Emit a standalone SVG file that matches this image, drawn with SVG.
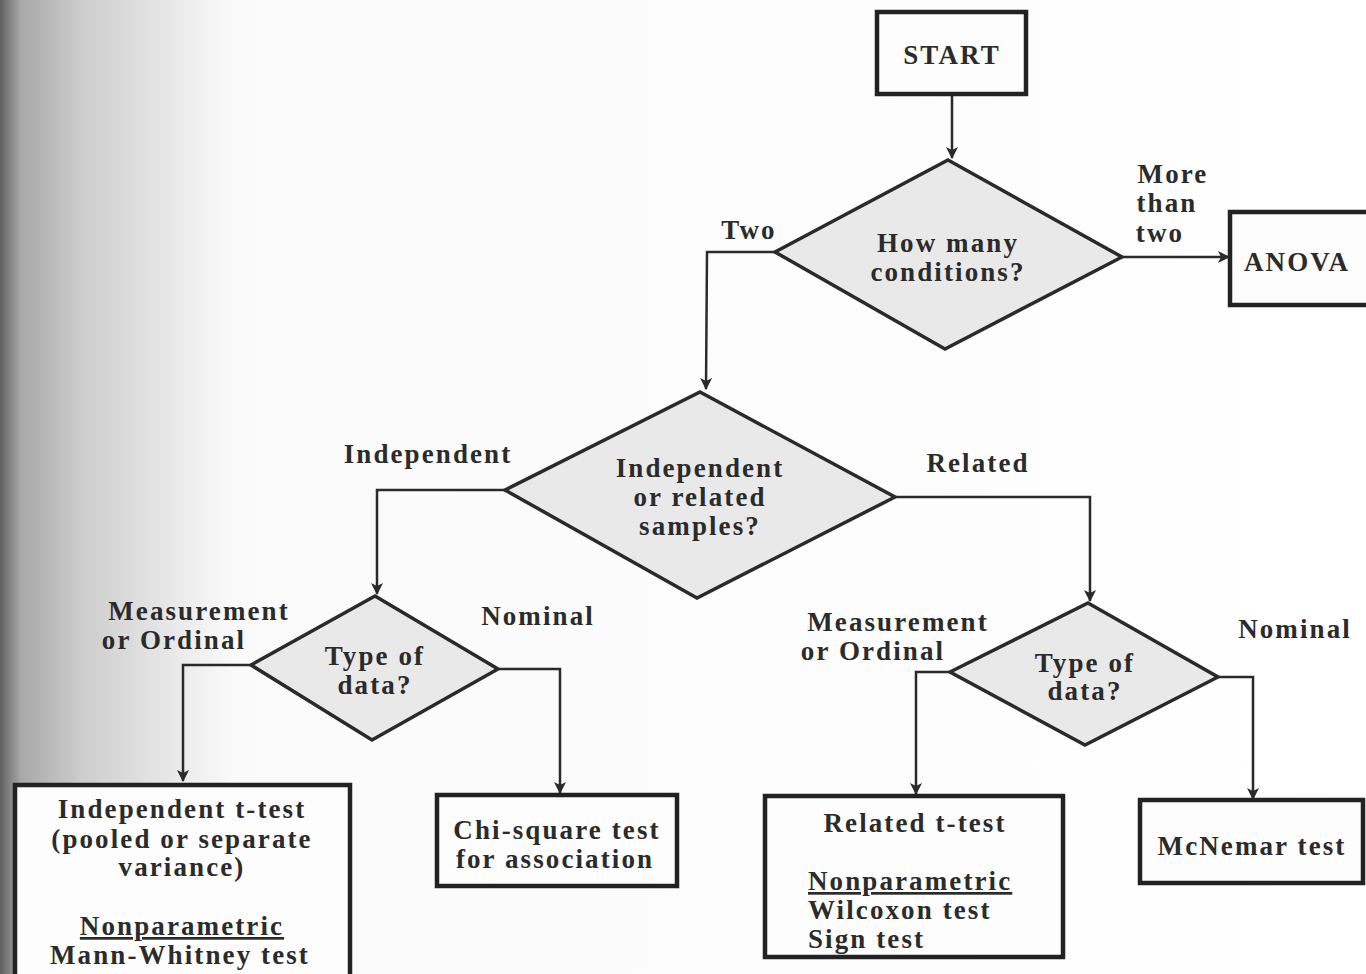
<svg xmlns="http://www.w3.org/2000/svg" width="1366" height="974" viewBox="0 0 1366 974">
<defs>
<linearGradient id="scan" x1="0" y1="0" x2="1" y2="0">
<stop offset="0" stop-color="#606060"/>
<stop offset="0.015" stop-color="#a8a8a8"/>
<stop offset="0.06" stop-color="#cdcdcd"/>
<stop offset="0.12" stop-color="#e6e6e6"/>
<stop offset="0.17" stop-color="#fafafa"/>
<stop offset="1" stop-color="#ffffff"/>
</linearGradient>
<marker id="arr" viewBox="0 0 12 12" refX="11" refY="6" markerWidth="12" markerHeight="12" markerUnits="userSpaceOnUse" orient="auto">
<path d="M0,0 L12,6 L0,12 L3,6 Z" fill="#2a2a2a"/>
</marker>
<style>
.box{fill:#fdfdfd;stroke:#222;stroke-width:4.5}
.dia{fill:#e9e9e9;stroke:#2a2a2a;stroke-width:3.5;stroke-linejoin:miter}
.con{fill:none;stroke:#2a2a2a;stroke-width:2.5;marker-end:url(#arr)}
text{font-family:"Liberation Serif","Times New Roman",serif;font-weight:bold;font-size:27px;fill:#2b2b2b;letter-spacing:2.1px}
.c{text-anchor:middle}
.u{text-decoration:underline}
</style>
</defs>
<rect x="0" y="0" width="1366" height="974" fill="url(#scan)"/>

<g id="connectors">
<path class="con" d="M952,94 L952,158"/>
<path class="con" d="M775,252 L707,252 L706,389"/>
<path class="con" d="M1122,257 L1229,257"/>
<path class="con" d="M505,490 L377,490 L377,594"/>
<path class="con" d="M895,497 L1090,497 L1090,601"/>
<path class="con" d="M251,665 L183,665 L183,781"/>
<path class="con" d="M498,669 L560,669 L560,793"/>
<path class="con" d="M950,672 L916,672 L916,794"/>
<path class="con" d="M1218,677 L1253,677 L1253,799"/>
</g>

<g id="labels">
<text class="c" x="749" y="239">Two</text>
<text class="c" x="1173" y="183">More</text>
<text class="c" x="1167" y="212">than</text>
<text class="c" x="1160" y="242">two</text>
<text class="c" x="428" y="463">Independent</text>
<text class="c" x="978" y="472">Related</text>
<text class="c" x="199" y="620">Measurement</text>
<text class="c" x="174" y="649">or Ordinal</text>
<text class="c" x="538" y="625">Nominal</text>
<text class="c" x="898" y="631">Measurement</text>
<text class="c" x="873" y="660">or Ordinal</text>
<text class="c" x="1295" y="638">Nominal</text>
</g>

<g id="start">
<rect class="box" x="877" y="12" width="149" height="82"/>
<text class="c" x="952" y="64">START</text>
</g>

<g id="how-many">
<polygon class="dia" points="948,160 1122,257 945,349 775,252"/>
<text class="c" x="948" y="252">How many</text>
<text class="c" x="948" y="281">conditions?</text>
</g>

<g id="anova">
<rect class="box" x="1230" y="212" width="140" height="93"/>
<text class="c" x="1297" y="271">ANOVA</text>
</g>

<g id="samples">
<polygon class="dia" points="700,392 895,497 697,598 505,490"/>
<text class="c" x="700" y="477">Independent</text>
<text class="c" x="700" y="506">or related</text>
<text class="c" x="700" y="535">samples?</text>
</g>

<g id="type-left">
<polygon class="dia" points="375,596 498,669 372,740 251,665"/>
<text class="c" x="375" y="665">Type of</text>
<text class="c" x="375" y="694">data?</text>
</g>

<g id="type-right">
<polygon class="dia" points="1088,603 1218,677 1085,745 950,672"/>
<text class="c" x="1085" y="672">Type of</text>
<text class="c" x="1085" y="700">data?</text>
</g>

<g id="independent-t">
<rect class="box" x="15" y="785" width="335" height="195"/>
<text class="c" x="182" y="818">Independent t-test</text>
<text class="c" x="182" y="848">(pooled or separate</text>
<text class="c" x="182" y="876">variance)</text>
<text class="c u" x="182" y="935">Nonparametric</text>
<text class="c" x="180" y="964">Mann-Whitney test</text>
</g>

<g id="chi-square">
<rect class="box" x="437" y="795" width="240" height="91"/>
<text class="c" x="557" y="839">Chi-square test</text>
<text class="c" x="555" y="868">for association</text>
</g>

<g id="related-t">
<rect class="box" x="765" y="796" width="298" height="161"/>
<text class="c" x="915" y="832">Related t-test</text>
<text class="u" x="808" y="890">Nonparametric</text>
<text x="808" y="919">Wilcoxon test</text>
<text x="808" y="948">Sign test</text>
</g>

<g id="mcnemar">
<rect class="box" x="1140" y="800" width="223" height="83"/>
<text class="c" x="1252" y="855">McNemar test</text>
</g>
</svg>
